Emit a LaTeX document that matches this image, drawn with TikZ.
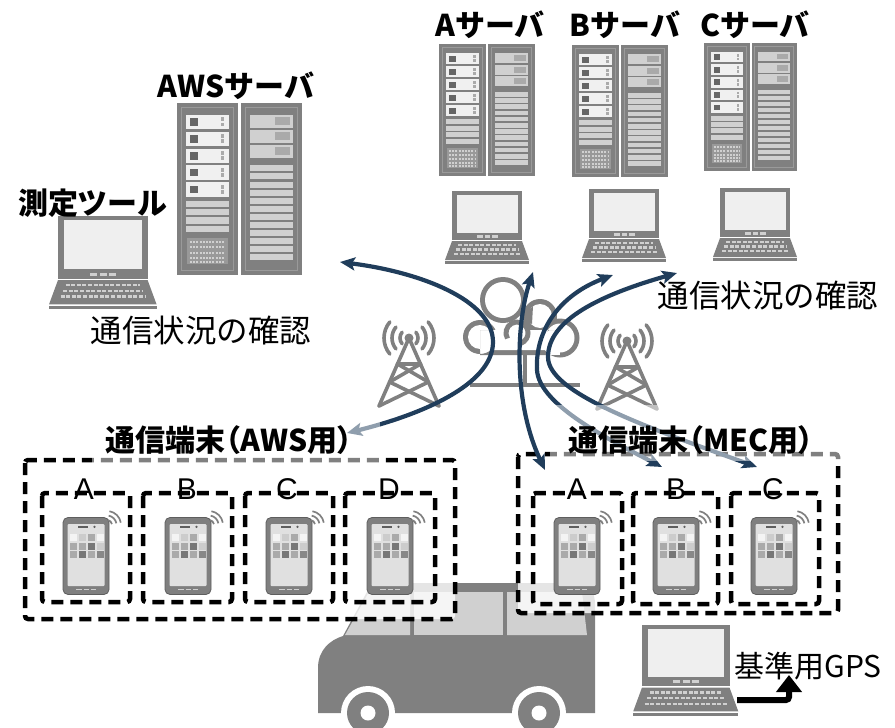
\documentclass[tikz,border=0pt]{standalone}
\usepackage{fontspec}
\newfontfamily\jp{Noto Sans CJK JP}
\newfontfamily\jpp{Noto Sans CJK JP}[RawFeature=+palt]
\newfontfamily\lat{Liberation Sans}
\usetikzlibrary{arrows.meta}

\definecolor{icongray}{HTML}{808080}
\definecolor{rimgray}{HTML}{9A9A9A}
\definecolor{navy}{HTML}{203D5B}
\definecolor{unitwhite}{HTML}{F0F0F0}
\definecolor{stripgray}{HTML}{D0D0D0}
\definecolor{darksq}{HTML}{666666}
\definecolor{midgray}{HTML}{AAAAAA}
\definecolor{ventgray}{HTML}{999999}
\definecolor{screengray}{HTML}{EFEFEF}
\definecolor{phonegray}{HTML}{7F7F7F}
\definecolor{phoneedge}{HTML}{5E5E5E}
\definecolor{phonescreen}{HTML}{E0E0E0}
\definecolor{windowgray}{HTML}{D0D0D0}

\tikzset{
  lbl/.style={font=\jp\bfseries\fontsize{30}{30}\selectfont, inner sep=0pt},
  lblp/.style={font=\jpp\bfseries\fontsize{30}{30}\selectfont, inner sep=0pt},
  lblr/.style={font=\jp\fontsize{31.5}{32}\selectfont, inner sep=0pt},
  letter/.style={font=\lat\fontsize{30}{30}\selectfont, inner sep=0pt, anchor=base},
  dashbox/.style={draw=black, line width=4.5pt, dash pattern=on 12pt off 7pt, rounded corners=3pt},
  flow/.style={draw=navy, line width=4.2pt, {Stealth[length=15pt,width=13pt,inset=3pt]}-{Stealth[length=15pt,width=13pt,inset=3pt]}},
  veil/.style={fill=white, fill opacity=0.5},
  keyrow/.style={draw=stripgray, line width=2.4pt, dash pattern=on 4pt off 1.6pt},
  towerline/.style={draw=icongray, line width=3.6pt, line cap=round, line join=round},
  % pair of server racks, origin at the top-left corner
  rackpair/.pic={
    \foreach \dx in {0,49} {
      \fill[icongray] (\dx,0) rectangle ++(47,132);
      \draw[rimgray, line width=0.9pt] (\dx+3.5,3.5) rectangle ++(40,125);
    }
    \foreach \y in {9,22,35,48,61} {
      \fill[unitwhite] (7,\y) rectangle (40,\y+11);
      \fill[darksq] (10,\y+2.5) rectangle (16.5,\y+8.5);
      \fill[midgray] (33.5,\y+2) rectangle (36.5,\y+5);
      \fill[midgray] (33.5,\y+6) rectangle (36.5,\y+9);
    }
    \foreach \y in {75,81.5,88,94.5} \fill[stripgray] (7,\y) rectangle (40,\y+5);
    \fill[ventgray] (8,104) rectangle (39,124);
    \foreach \y in {107,111,115,119,122}
      \draw[stripgray, line width=2pt, dash pattern=on 2pt off 1.2pt] (10,\y) -- (37,\y);
    \foreach \y in {9,20.5,32} {
      \fill[stripgray] (56,\y) rectangle (89,\y+10);
      \fill[midgray] (75,\y+2) rectangle (87,\y+8);
    }
    \foreach \y in {48,54.2,...,122} \fill[stripgray] (56,\y) rectangle (89,\y+4.6);
  },
  % notebook computer, origin at the top-left corner of the lid
  laptop/.pic={
    \fill[icongray] (0,0) rectangle (70,49);
    \fill[screengray] (4.5,3.5) rectangle (65.5,41.5);
    \foreach \x in {25,32.5,40} \fill[stripgray] (\x,44.2) rectangle ++(5.5,2.3);
    \fill[icongray] (0,50) -- (70,50) -- (77,69) -- (-7,69) -- cycle;
    \draw[keyrow] (6,54) -- (64,54);
    \draw[keyrow] (4,58.5) -- (66,58.5);
    \draw[keyrow] (2,63) -- (68,63);
    \fill[icongray] (-7,70.3) rectangle (77,73);
  },
  % smartphone, origin at its centre
  phone/.pic={
    \fill[phonegray, draw=phoneedge, line width=0.8pt, rounded corners=5pt] (-23,-38.5) rectangle (23,38.5);
    \fill[phonescreen, rounded corners=1pt] (-18.5,-32) rectangle (18.5,30);
    \fill[phoneedge] (-8,-29.8) rectangle (2,-28.4);
    \fill[phoneedge] (8.5,-29.1) circle (1.3);
    \foreach \x/\c in {-13/F4F4F4,-4/CCCCCC,5/AAAAAA,14/F4F4F4} {
      \definecolor{tmp}{HTML}{\c}\fill[tmp] (\x-3.5,-22.5) rectangle ++(7,7);}
    \foreach \x/\c in {-13/AAAAAA,-4/AAAAAA,5/777777,14/CCCCCC} {
      \definecolor{tmp}{HTML}{\c}\fill[tmp] (\x-3.5,-13.5) rectangle ++(7,7);}
    \foreach \x/\c in {-13/AAAAAA,-4/777777,5/AAAAAA,14/888888} {
      \definecolor{tmp}{HTML}{\c}\fill[tmp] (\x-3.5,-5.5) rectangle ++(7,7);}
    \draw[stripgray, line width=1.4pt, dash pattern=on 5.5pt off 2pt] (-10,33.5) -- (10,33.5);
    \foreach \r in {5,9.5,14}
      \draw[icongray, line width=1.7pt] (21,-31) ++(-10:\r) arc[start angle=-10, end angle=-80, radius=\r];
  },
  % radio mast, origin at the apex
  tower/.pic={
    \draw[towerline] (-30,68) -- (0,0) -- (30,68);
    \draw[towerline] (-11.5,26) -- (11.5,26);
    \draw[towerline] (-11.5,26) -- (19.4,44) -- (-30,68);
    \draw[towerline] (11.5,26) -- (-19.4,44) -- (30,68);
    \fill[icongray] (0,0) circle (4.5);
    \foreach \r in {9,17,25} {
      \draw[towerline] (0,0) ++(40:\r) arc[start angle=40, end angle=-40, radius=\r];
      \draw[towerline] (0,0) ++(140:\r) arc[start angle=140, end angle=220, radius=\r];
    }
  },
}

\begin{document}
\begin{tikzpicture}[x=1pt, y=-1pt]
\useasboundingbox (0,0) rectangle (895,728);

% ---------- van ----------
\fill[icongray] (318,713) -- (318,668) .. controls (318,650) and (330,640) .. (343,636)
  -- (368,590) .. controls (371,585) and (374,583) .. (380,583) -- (578,583)
  .. controls (590,583) and (595,592) .. (595,605) -- (595,713) -- cycle;
\fill[windowgray] (345,635) -- (369,592) -- (410,592) -- (410,635) -- cycle;
\fill[windowgray] (414,592) rectangle (503,635);
\fill[windowgray] (507,592) -- (582,592) -- (587,635) -- (507,635) -- cycle;
\foreach \wx in {368,539} {
  \fill[white] (\wx,713) circle (27);
  \fill[icongray] (\wx,713) circle (21);
  \fill[white] (\wx,713) circle (7.5);
}

% ---------- terminal groups ----------
\draw[dashbox, fill=white, fill opacity=0.8] (25,460) rectangle (455,619);
\draw[dashbox, fill=white, fill opacity=0.8] (518,454) rectangle (838,613);
\foreach \l/\r in {42/130,143/232,245/333,345/435}
  \draw[dashbox] (\l,493) rectangle (\r,602);
\foreach \l/\r in {533/622,633/718,731/819}
  \draw[dashbox] (\l,493) rectangle (\r,604);

\foreach \n/\x in {a/86,b/188,c/289,d/390}
  \pic (aws\n) at (\x,556) {phone};
\foreach \n/\x in {a/577,b/676,c/774}
  \pic (mec\n) at (\x,556) {phone};

\node[letter] (lawsA) at (84,499) {A};
\node[letter] (lawsB) at (187,499) {B};
\node[letter] (lawsC) at (287,499) {C};
\node[letter] (lawsD) at (389,499) {D};
\node[letter] (lmecA) at (577,499) {A};
\node[letter] (lmecB) at (676,499) {B};
\node[letter] (lmecC) at (773,499) {C};

% ---------- servers and notebooks ----------
\pic[scale=1.3] (srvaws) at (177,103) {rackpair};
\pic (srva) at (439,44) {rackpair};
\pic (srvb) at (572,45) {rackpair};
\pic[scale=0.97] (srvc) at (704,43) {rackpair};

\pic[scale=1.28] (pctool) at (58,216) {laptop};
\pic (pca) at (452,191) {laptop};
\pic (pcb) at (589,189) {laptop};
\pic (pcc) at (720,188) {laptop};
\pic[scale=1.25] (pcgps) at (642,625) {laptop};

% ---------- masts and cloud ----------
\pic (mastl) at (409,338) {tower};
\pic (mastr) at (627,341) {tower};

\fill[icongray] (480,337) circle (17) (503,300) circle (23) (540,316) circle (17)
  (560,338) circle (19.5) (480,330) rectangle (560,355);
\fill[white] (480,337) circle (12) (503,300) circle (18) (540,316) circle (12)
  (560,338) circle (14.5) (480,330) rectangle (560,350);
\draw[icongray, line width=5pt] (517,333) ++(150:11) arc[start angle=150, end angle=430, radius=11];
\fill[icongray] (521,318) -- (533,306) -- (532,324) -- cycle;
\draw[icongray, line width=4pt] (525,355) -- (525,385);
\draw[icongray, line width=4.5pt] (470,385) -- (580,385);

% ---------- measurement paths ----------
\coordinate (pAwsSrv) at (340,262);
\coordinate (pAwsTurn) at (493,342);
\coordinate (pAwsTerm) at (347,433);
\coordinate (pASrv) at (533,272);
\coordinate (pATerm) at (545,470);
\coordinate (pBSrv) at (613,275);
\coordinate (pBTurn) at (537,370);
\coordinate (pBTerm) at (662,467);
\coordinate (pCSrv) at (677,273);
\coordinate (pCTurn) at (548,357);
\coordinate (pCTerm) at (757,467);

\draw[flow] (pAwsSrv) .. controls (420,272) and (493,300) .. (pAwsTurn)
  .. controls (493,385) and (420,415) .. (pAwsTerm);
\draw[flow] (pASrv) .. controls (517,320) and (512,400) .. (pATerm);
\draw[flow] (pBSrv) .. controls (560,295) and (535,330) .. (pBTurn)
  .. controls (539,405) and (610,440) .. (pBTerm);
\draw[flow] (pCSrv) .. controls (600,295) and (548,320) .. (pCTurn)
  .. controls (548,392) and (640,425) .. (pCTerm);

% translucent label backgrounds
\fill[veil] (92,415) rectangle (380,464);
\fill[veil] (550,405) rectangle (842,461);

% ---------- GPS reference ----------
\coordinate (gpsFrom) at (737,700);
\coordinate (gpsTo) at (789,675);
\draw[line width=6pt, rounded corners=3pt, -{Triangle[length=17pt,width=25pt]}] (gpsFrom) -| (gpsTo);

% ---------- labels ----------
\node[lbl] (tAws) at (236,86) {AWSサーバ};
\node[lbl] (tA) at (490,25) {Aサーバ};
\node[lbl] (tB) at (625,25) {Bサーバ};
\node[lbl] (tC) at (755,25) {Cサーバ};
\node[lbl] (tTool) at (93,203) {測定ツール};
\node[lblr] (tChk1) at (201,331) {通信状況の確認};
\node[lblr] (tChk2) at (768,296) {通信状況の確認};
\node[lblp] (tTermAws) at (229,440) {通信端末（AWS用）};
\node[lblp] (tTermMec) at (691,440) {通信端末（MEC用）};
\node[font=\jp\fontsize{30}{30}\selectfont, inner sep=0pt] (tGps) at (808,666) {基準用GPS};
\end{tikzpicture}
\end{document}
